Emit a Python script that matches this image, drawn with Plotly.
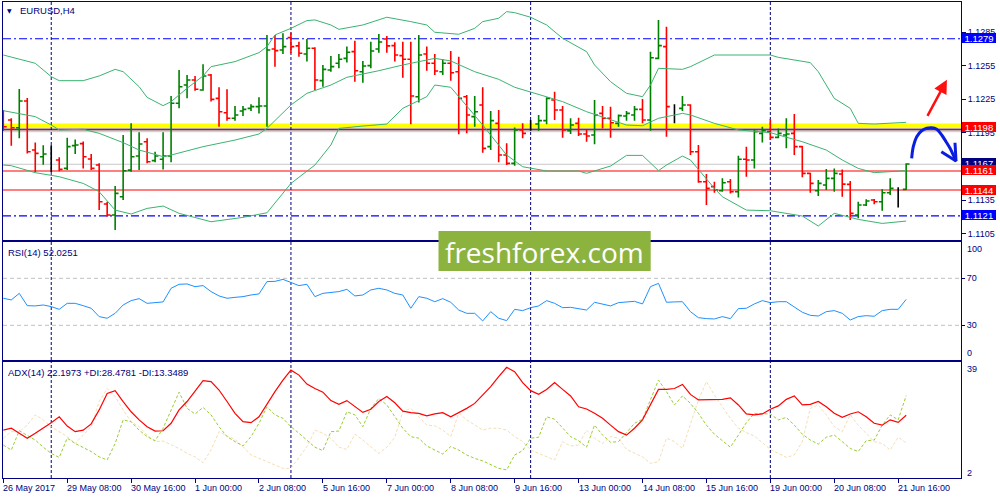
import plotly.graph_objects as go

# ---------------- data (EURUSD H4, bar index 0 = 26 May 2017 00:00) ----------------
opens = [1.12059, 1.12065, 1.11996, 1.12235, 1.11797, 1.11737, 1.11705, 1.11708, 1.11633, 1.11836,
         1.11854, 1.11717, 1.11663, 1.11315, 1.11217, 1.11380, 1.11618, 1.11743, 1.11871, 1.11702,
         1.11714, 1.11743, 1.12214, 1.12377, 1.12422, 1.12333, 1.12467, 1.12258, 1.12130, 1.12080,
         1.12145, 1.12169, 1.12184, 1.12190, 1.12699, 1.12690, 1.12800, 1.12726, 1.12654, 1.12705,
         1.12416, 1.12511, 1.12571, 1.12615, 1.12675, 1.12496, 1.12550, 1.12699, 1.12788, 1.12729,
         1.12639, 1.12607, 1.12273, 1.12654, 1.12571, 1.12496, 1.12571, 1.12496, 1.12273, 1.12095,
         1.12199, 1.11827, 1.12035, 1.11752, 1.11678, 1.11976, 1.12029, 1.12029, 1.12059, 1.12243,
         1.12154, 1.11970, 1.12035, 1.11940, 1.11931, 1.12124, 1.12080, 1.12035, 1.12101, 1.12110,
         1.12160, 1.12065, 1.12615, 1.12720, 1.12178, 1.12169, 1.12199, 1.11782, 1.11514, 1.11470,
         1.11434, 1.11514, 1.11425, 1.11714, 1.11708, 1.11946, 1.11961, 1.11910, 1.11931, 1.11946,
         1.11827, 1.11589, 1.11434, 1.11485, 1.11544, 1.11583, 1.11490, 1.11217, 1.11306, 1.11351,
         1.11336, 1.11416, 1.11455, 1.11446]
highs = [1.12154, 1.12080, 1.12342, 1.12261, 1.11865, 1.11839, 1.11839, 1.11732, 1.11907, 1.11892,
         1.11874, 1.11761, 1.11678, 1.11336, 1.11476, 1.11931, 1.12035, 1.11955, 1.11901, 1.11782,
         1.11955, 1.12279, 1.12511, 1.12467, 1.12458, 1.12562, 1.12476, 1.12357, 1.12339, 1.12190,
         1.12190, 1.12205, 1.12267, 1.12824, 1.12824, 1.12839, 1.12845, 1.12764, 1.12788, 1.12714,
         1.12556, 1.12636, 1.12654, 1.12720, 1.12773, 1.12592, 1.12764, 1.12833, 1.12815, 1.12758,
         1.12764, 1.12764, 1.12824, 1.12720, 1.12654, 1.12607, 1.12681, 1.12630, 1.12288, 1.12279,
         1.12357, 1.12145, 1.12154, 1.11857, 1.11999, 1.12035, 1.12065, 1.12110, 1.12267, 1.12318,
         1.12190, 1.12080, 1.12086, 1.11976, 1.12243, 1.12190, 1.12184, 1.12115, 1.12145, 1.12190,
         1.12252, 1.12675, 1.12958, 1.12898, 1.12205, 1.12279, 1.12205, 1.11842, 1.11583, 1.11514,
         1.11544, 1.11538, 1.11746, 1.11827, 1.11976, 1.12005, 1.12074, 1.11990, 1.12080, 1.12118,
         1.11833, 1.11595, 1.11529, 1.11627, 1.11633, 1.11624, 1.11520, 1.11336, 1.11357, 1.11360,
         1.11446, 1.11544, 1.11464, 1.11678]
lows = [1.11970, 1.11836, 1.11901, 1.11767, 1.11598, 1.11666, 1.11601, 1.11607, 1.11618, 1.11761,
        1.11633, 1.11618, 1.11261, 1.11202, 1.11083, 1.11351, 1.11604, 1.11618, 1.11678, 1.11687,
        1.11624, 1.11687, 1.12169, 1.12258, 1.12327, 1.12327, 1.12229, 1.12005, 1.12059, 1.12059,
        1.12101, 1.12145, 1.12124, 1.12005, 1.12541, 1.12654, 1.12660, 1.12630, 1.12586, 1.12333,
        1.12362, 1.12496, 1.12526, 1.12577, 1.12407, 1.12398, 1.12526, 1.12666, 1.12666, 1.12586,
        1.12443, 1.12026, 1.12220, 1.12505, 1.12467, 1.12467, 1.12416, 1.11937, 1.11946, 1.12005,
        1.11773, 1.11797, 1.11687, 1.11663, 1.11657, 1.11901, 1.11970, 1.11970, 1.12026, 1.12065,
        1.11907, 1.11940, 1.11922, 1.11871, 1.11848, 1.11990, 1.11907, 1.12005, 1.12059, 1.12059,
        1.12035, 1.11970, 1.12607, 1.11916, 1.12035, 1.12145, 1.11752, 1.11505, 1.11306, 1.11416,
        1.11425, 1.11410, 1.11374, 1.11559, 1.11633, 1.11865, 1.11886, 1.11901, 1.11812, 1.11752,
        1.11553, 1.11416, 1.11386, 1.11440, 1.11425, 1.11380, 1.11172, 1.11187, 1.11297, 1.11312,
        1.11255, 1.11395, 1.11285, 1.11440]
closes = [1.12005, 1.11996, 1.12235, 1.11782, 1.11767, 1.11761, 1.11705, 1.11624, 1.11827, 1.11842,
          1.11737, 1.11633, 1.11336, 1.11217, 1.11410, 1.11612, 1.11737, 1.11851, 1.11693, 1.11743,
          1.11743, 1.12214, 1.12362, 1.12422, 1.12339, 1.12458, 1.12249, 1.12139, 1.12080, 1.12110,
          1.12160, 1.12184, 1.12190, 1.12690, 1.12684, 1.12720, 1.12720, 1.12660, 1.12705, 1.12422,
          1.12517, 1.12541, 1.12607, 1.12669, 1.12505, 1.12547, 1.12681, 1.12761, 1.12726, 1.12645,
          1.12607, 1.12279, 1.12645, 1.12571, 1.12502, 1.12571, 1.12487, 1.12258, 1.12110, 1.12139,
          1.11812, 1.12059, 1.11752, 1.11678, 1.11976, 1.11946, 1.12029, 1.12059, 1.12258, 1.12154,
          1.11976, 1.12020, 1.11940, 1.11922, 1.12110, 1.12080, 1.12041, 1.12104, 1.12124, 1.12160,
          1.12065, 1.12621, 1.12729, 1.12184, 1.12178, 1.12199, 1.11782, 1.11514, 1.11455, 1.11440,
          1.11505, 1.11425, 1.11714, 1.11708, 1.11961, 1.11970, 1.11910, 1.11946, 1.11940, 1.11827,
          1.11589, 1.11499, 1.11499, 1.11544, 1.11589, 1.11493, 1.11232, 1.11306, 1.11342, 1.11336,
          1.11416, 1.11455, 1.11455, 1.11672]

bb_up_idx = [0, 4, 6, 7, 10, 12, 14, 15, 17, 18, 20, 21, 23, 25, 26, 29, 32, 33, 34, 36,
             38, 39, 41, 42, 45, 48, 51, 53, 54, 57, 59, 60, 62, 63, 64, 66, 68, 70, 73, 74,
             76, 78, 80, 81, 82, 85, 86, 89, 96, 97, 101, 102, 104, 106, 107, 109, 113]
bb_up = [1.12645, 1.12571, 1.12452, 1.12416, 1.12416, 1.12458, 1.12517, 1.12496, 1.12362, 1.12267,
         1.12193, 1.12229, 1.12348, 1.12458, 1.12541, 1.12586, 1.12666, 1.12720, 1.12824, 1.12883,
         1.12952, 1.12958, 1.12913, 1.12874, 1.12913, 1.12982, 1.12943, 1.12913, 1.12848, 1.12830,
         1.12883, 1.12943, 1.12973, 1.13032, 1.13023, 1.12982, 1.12913, 1.12794, 1.12675, 1.12556,
         1.12407, 1.12303, 1.12273, 1.12377, 1.12526, 1.12517, 1.12541, 1.12645, 1.12645, 1.12624,
         1.12577, 1.12496, 1.12258, 1.12169, 1.12035, 1.12029, 1.12044]
bb_mid_idx = [0, 4, 6, 7, 10, 12, 15, 17, 20, 21, 25, 29, 32, 33, 36, 38, 41, 43, 47, 50,
              54, 56, 59, 62, 64, 67, 70, 73, 76, 78, 80, 82, 85, 86, 89, 92, 96, 100, 103, 105,
              107, 109, 113]
bb_mid = [1.12148, 1.12095, 1.12020, 1.11976, 1.11982, 1.11946, 1.11863, 1.11797, 1.11738, 1.11752,
          1.11827, 1.11886, 1.11940, 1.11990, 1.12199, 1.12303, 1.12377, 1.12446, 1.12505, 1.12556,
          1.12615, 1.12592, 1.12496, 1.12428, 1.12357, 1.12294, 1.12229, 1.12139, 1.12065, 1.12020,
          1.12014, 1.12080, 1.12124, 1.12110, 1.12035, 1.11976, 1.11952, 1.11871, 1.11797, 1.11708,
          1.11633, 1.11595, 1.11613]
bb_lo_idx = [0, 1, 4, 7, 10, 12, 14, 16, 18, 20, 22, 26, 30, 33, 36, 39, 41, 42, 45, 48,
             50, 53, 54, 56, 58, 60, 63, 65, 68, 72, 73, 76, 78, 80, 82, 83, 85, 86, 89, 90,
             93, 96, 100, 102, 104, 107, 110, 113]
bb_lo = [1.11663, 1.11657, 1.11595, 1.11559, 1.11499, 1.11425, 1.11261, 1.11226, 1.11276, 1.11297,
         1.11232, 1.11157, 1.11196, 1.11237, 1.11499, 1.11663, 1.11842, 1.11990, 1.12011, 1.12029,
         1.12169, 1.12273, 1.12377, 1.12357, 1.12190, 1.12020, 1.11752, 1.11648, 1.11610, 1.11610,
         1.11589, 1.11654, 1.11749, 1.11749, 1.11613, 1.11663, 1.11743, 1.11708, 1.11455, 1.11380,
         1.11261, 1.11255, 1.11208, 1.11119, 1.11232, 1.11178, 1.11142, 1.11163]

rsi = [53.0, 51.6, 57.2, 46.7, 46.5, 47.3, 45.9, 43.6, 48.7, 48.7,
       46.7, 44.5, 37.4, 36.0, 40.2, 47.3, 51.0, 52.7, 48.7, 49.6,
       49.9, 61.5, 64.9, 65.2, 62.9, 63.8, 58.7, 55.0, 53.0, 53.8,
       54.4, 55.8, 56.7, 67.2, 67.4, 69.1, 66.6, 63.8, 64.9, 54.4,
       57.2, 58.1, 58.7, 60.6, 55.0, 55.8, 60.1, 61.5, 60.1, 57.2,
       55.8, 44.5, 54.4, 53.0, 50.1, 52.7, 49.6, 43.0, 40.2, 40.2,
       33.7, 41.6, 36.0, 34.0, 43.6, 42.5, 45.0, 46.5, 51.0, 48.7,
       45.0, 45.3, 43.9, 43.0, 49.6, 48.2, 46.5, 49.3, 50.1, 50.4,
       48.2, 62.9, 65.7, 49.6, 49.9, 50.1, 41.6, 36.5, 35.7, 35.4,
       37.4, 35.7, 44.2, 44.5, 48.2, 51.0, 49.3, 50.1, 50.1, 45.9,
       41.1, 38.5, 37.9, 41.6, 42.5, 40.2, 34.5, 37.4, 38.2, 37.7,
       42.5, 43.6, 43.6, 52.0]

adx = [17.4, 18.0, 16.4, 14.8, 16.4, 18.0, 19.8, 21.7, 18.7, 16.9,
       17.4, 19.4, 23.9, 29.2, 30.1, 26.6, 23.3, 20.7, 18.5, 17.1,
       17.2, 19.6, 23.9, 26.6, 29.8, 33.3, 33.0, 30.3, 26.6, 22.8,
       20.1, 19.8, 21.7, 25.8, 29.8, 33.5, 36.7, 35.1, 32.2, 30.8,
       29.6, 26.9, 25.7, 26.9, 25.0, 23.1, 24.1, 26.6, 28.2, 26.2,
       23.5, 23.0, 22.8, 22.0, 22.6, 23.0, 21.7, 23.0, 24.4, 26.0,
       28.7, 31.4, 34.6, 37.6, 36.2, 32.7, 30.1, 28.9, 30.5, 32.7,
       30.5, 28.4, 24.9, 24.2, 22.8, 21.2, 19.0, 16.9, 15.8, 18.0,
       20.7, 25.5, 30.5, 30.5, 30.8, 32.1, 28.9, 27.1, 27.1, 27.3,
       27.3, 27.8, 25.5, 22.6, 22.3, 22.6, 24.1, 25.2, 27.3, 28.4,
       25.5, 25.7, 26.6, 24.9, 22.8, 21.5, 22.6, 23.3, 21.7, 19.6,
       19.0, 20.7, 19.9, 22.2]
plus_di = [12.6, 11.0, 17.2, 15.8, 14.2, 11.9, 9.9, 8.6, 14.8, 13.1,
           11.9, 10.5, 8.8, 7.8, 13.1, 20.7, 20.1, 17.4, 15.3, 14.0,
           18.0, 23.9, 29.6, 24.4, 22.6, 24.7, 22.3, 18.5, 15.3, 13.7,
           12.3, 15.3, 19.6, 24.9, 22.3, 21.2, 18.5, 16.4, 14.2, 11.9,
           10.8, 16.9, 17.1, 23.3, 22.3, 18.5, 24.4, 27.6, 25.5, 21.7,
           18.0, 15.3, 14.8, 12.3, 11.0, 9.7, 12.1, 11.0, 9.4, 8.3,
           7.5, 6.2, 5.1, 4.6, 9.4, 10.8, 14.8, 15.1, 21.7, 20.9,
           18.0, 15.3, 14.0, 11.9, 19.0, 15.8, 13.5, 13.7, 16.6, 19.6,
           20.9, 27.3, 33.5, 29.8, 25.5, 28.4, 26.0, 22.8, 19.0, 16.1,
           14.0, 11.9, 15.8, 19.8, 22.8, 22.6, 22.6, 20.7, 21.5, 19.0,
           16.1, 14.2, 12.9, 15.1, 15.8, 13.7, 11.5, 10.5, 14.0, 14.2,
           19.0, 22.3, 20.7, 28.5]
minus_di = [14.8, 16.9, 16.9, 19.0, 22.3, 20.7, 18.5, 16.9, 15.3, 13.1,
            15.8, 18.5, 26.6, 30.8, 28.2, 23.9, 20.1, 18.5, 15.8, 13.7,
            13.9, 12.6, 11.5, 9.9, 8.8, 6.9, 11.0, 16.9, 15.5, 14.4,
            12.1, 9.4, 8.3, 7.2, 6.2, 5.1, 5.1, 8.8, 12.1, 17.4,
            16.4, 14.8, 11.9, 11.2, 16.1, 14.2, 11.9, 9.9, 11.9, 15.1,
            23.3, 24.4, 21.7, 19.0, 18.8, 17.4, 15.3, 22.8, 20.7, 19.0,
            17.4, 18.0, 18.0, 17.4, 15.3, 13.7, 11.0, 9.9, 8.8, 7.8,
            13.7, 12.3, 12.6, 17.4, 14.8, 13.1, 15.3, 14.8, 11.2, 9.9,
            8.8, 6.7, 7.2, 14.8, 13.7, 11.5, 19.6, 27.1, 33.0, 28.7,
            24.9, 21.2, 18.0, 16.6, 15.5, 13.4, 11.2, 9.9, 8.6, 9.4,
            13.7, 24.4, 25.5, 22.3, 18.5, 16.9, 22.3, 19.0, 16.4, 13.7,
            13.1, 11.0, 15.1, 13.3]

time_tick_idx = [0, 8, 16, 24, 32, 40, 48, 56, 64, 72, 80, 88, 96, 104, 112]
time_tick_labels = ["26 May 2017", "29 May 08:00", "30 May 16:00", "1 Jun 00:00", "2 Jun 08:00",
                    "5 Jun 16:00", "7 Jun 00:00", "8 Jun 08:00", "9 Jun 16:00", "13 Jun 00:00",
                    "14 Jun 08:00", "15 Jun 16:00", "19 Jun 00:00", "20 Jun 08:00", "21 Jun 16:00"]
week_sep_idx = [6, 36, 66, 96]
price_ticks = [1.1105, 1.1135, 1.1165, 1.1195, 1.1225, 1.1255, 1.1285]

level_blue = [1.1279, 1.1121]
level_red = [1.1161, 1.1144]
level_key = 1.1198
bid = 1.1167

# hand-drawn arrows (bar index, price)
red_arrow_tail = (115.57, 1.12089)
red_arrow_head = (118.1, 1.12425)
blue_curve_x = [113.69, 113.89, 114.32, 114.94, 115.57, 116.19, 116.82, 117.45, 117.99, 118.49, 118.90, 119.24]
blue_curve_y = [1.11723, 1.11827, 1.11916, 1.11969, 1.11991, 1.11996, 1.11982, 1.11931, 1.11871, 1.11812, 1.11752, 1.11698]
blue_head_x = [117.40, 119.24, 119.11]
blue_head_y = [1.11782, 1.11698, 1.11862]

# ---------------- styling ----------------
NAVY = "#000080"
FONT = "Liberation Sans"
GREEN_BAR = "#008000"
RED_BAR = "#FF0000"
PLOT_L, PLOT_R, PLOT_T, PLOT_B = 3, 961, 2, 478
W, H = 1000, 500


def px_x(px):
    return (px - PLOT_L) / (PLOT_R - PLOT_L)


def px_y(py):
    return (PLOT_B - py) / (PLOT_B - PLOT_T)


n = len(closes)
idx = list(range(n))
fig = go.Figure()

normal = [i for i in idx if closes[i] != opens[i]]
doji = [i for i in idx if closes[i] == opens[i]]


def ohlc_trace(sel, inc, dec, tw):
    return go.Ohlc(x=sel, open=[opens[i] for i in sel], high=[highs[i] for i in sel],
                   low=[lows[i] for i in sel], close=[closes[i] for i in sel],
                   increasing=dict(line=dict(color=inc, width=1.6)),
                   decreasing=dict(line=dict(color=dec, width=1.6)),
                   tickwidth=tw, xaxis="x", yaxis="y", hoverinfo="skip", showlegend=False)


fig.add_trace(ohlc_trace(normal, GREEN_BAR, RED_BAR, 0.42))
if doji:
    gaps = [b - a for a, b in zip(doji[:-1], doji[1:])] or [1]
    fig.add_trace(ohlc_trace(doji, "#000000", "#000000", min(0.5, 0.42 / min(gaps))))

for bx, by in [(bb_up_idx, bb_up), (bb_mid_idx, bb_mid), (bb_lo_idx, bb_lo)]:
    fig.add_trace(go.Scatter(x=bx, y=by, mode="lines", line=dict(color="#3CB371", width=1),
                             xaxis="x", yaxis="y", hoverinfo="skip"))

# blue hand-drawn curve
fig.add_trace(go.Scatter(x=blue_curve_x, y=blue_curve_y, mode="lines",
                         line=dict(color="#0A1EE0", width=3, shape="spline"),
                         xaxis="x", yaxis="y", hoverinfo="skip", cliponaxis=False))
fig.add_trace(go.Scatter(x=blue_head_x, y=blue_head_y, mode="lines",
                         line=dict(color="#0A1EE0", width=3),
                         xaxis="x", yaxis="y", hoverinfo="skip", cliponaxis=False))

# RSI
fig.add_trace(go.Scatter(x=idx, y=rsi, mode="lines", line=dict(color="#1E90FF", width=1),
                         xaxis="x2", yaxis="y2", hoverinfo="skip"))
# ADX
fig.add_trace(go.Scatter(x=idx, y=minus_di, mode="lines", line=dict(color="#F5DEB3", width=1, dash="3px,2px"),
                         xaxis="x3", yaxis="y3", hoverinfo="skip"))
fig.add_trace(go.Scatter(x=idx, y=plus_di, mode="lines", line=dict(color="#9ACD32", width=1, dash="3px,2px"),
                         xaxis="x3", yaxis="y3", hoverinfo="skip"))
fig.add_trace(go.Scatter(x=idx, y=adx, mode="lines", line=dict(color="#FF0000", width=1.2),
                         xaxis="x3", yaxis="y3", hoverinfo="skip"))

shapes = []
# key level band
shapes.append(dict(type="line", xref="x domain", x0=0, x1=1, yref="y", y0=level_key + 0.00006, y1=level_key + 0.00006,
                   line=dict(color="#D2D2D2", width=7), layer="below"))
shapes.append(dict(type="line", xref="x domain", x0=0, x1=1, yref="y", y0=level_key + 0.00033, y1=level_key + 0.00033,
                   line=dict(color="#FFFF00", width=4.5), layer="below"))
shapes.append(dict(type="line", xref="x domain", x0=0, x1=1, yref="y", y0=level_key, y1=level_key,
                   line=dict(color="#8B2A2A", width=1.3), layer="below"))
shapes.append(dict(type="line", xref="x domain", x0=0, x1=1, yref="y", y0=bid, y1=bid,
                   line=dict(color="#C8C8C8", width=1), layer="below"))
for lv in level_blue:
    shapes.append(dict(type="line", xref="x domain", x0=0, x1=1, yref="y", y0=lv, y1=lv,
                       line=dict(color="#0000FF", width=1.2, dash="8px,3px,2px,3px"), layer="below"))
for lv in level_red:
    shapes.append(dict(type="line", xref="x domain", x0=0, x1=1, yref="y", y0=lv, y1=lv,
                       line=dict(color="#FF0000", width=1.2), layer="below"))
# RSI levels
for lv in [70, 30]:
    shapes.append(dict(type="line", xref="x2 domain", x0=0, x1=1, yref="y2", y0=lv, y1=lv,
                       line=dict(color="#C0C0C0", width=1, dash="4px,3px"), layer="below"))
# weekly separators
for s in week_sep_idx:
    for xr, yr in [("x", "y domain"), ("x2", "y2 domain"), ("x3", "y3 domain")]:
        shapes.append(dict(type="line", xref=xr, x0=s, x1=s, yref=yr, y0=0, y1=1,
                           line=dict(color=NAVY, width=1, dash="3px,2px"), layer="below"))
# watermark box
shapes.append(dict(type="rect", xref="paper", yref="paper", x0=px_x(438.5), x1=px_x(650.7),
                   y0=px_y(271), y1=px_y(231), fillcolor="#8DB33F", line=dict(width=0), layer="above"))

annotations = []
# time labels (left aligned at tick)
for ti, tl in zip(time_tick_idx, time_tick_labels):
    annotations.append(dict(xref="x3", x=ti, yref="paper", y=px_y(488), xanchor="left", yanchor="middle",
                            text=tl, showarrow=False, xshift=-2, font=dict(family=FONT, size=9, color=NAVY)))
# titles
annotations.append(dict(xref="paper", x=px_x(18), yref="paper", y=px_y(10.5), xanchor="left", yanchor="middle",
                        text="EURUSD,H4", showarrow=False, font=dict(family=FONT, size=9.5, color=NAVY)))
annotations.append(dict(xref="paper", x=px_x(9.5), yref="paper", y=px_y(10.5), xanchor="center", yanchor="middle",
                        text="▼", showarrow=False, font=dict(family="DejaVu Sans", size=6, color=NAVY)))
annotations.append(dict(xref="paper", x=px_x(6), yref="paper", y=px_y(252), xanchor="left", yanchor="middle",
                        text="RSI(14) %.4f" % 52.0251, showarrow=False, font=dict(family=FONT, size=9.5, color=NAVY)))
annotations.append(dict(xref="paper", x=px_x(6), yref="paper", y=px_y(372), xanchor="left", yanchor="middle",
                        text="ADX(14) 22.1973 +DI:28.4781 -DI:13.3489", showarrow=False,
                        font=dict(family=FONT, size=9.5, color=NAVY)))
# edge labels of sub windows
for txt, py in [("100", 249.3), ("0", 353.3), ("39", 369.3), ("2", 472.7)]:
    annotations.append(dict(xref="paper", x=1, yref="paper", y=px_y(py), xanchor="left", yanchor="middle",
                            xshift=4, text=txt, showarrow=False, font=dict(family=FONT, size=9, color=NAVY)))
# price boxes
for txt, val, bg, ys in [("1.1279", 1.1279, "#0000FF", 1), ("1.1198", level_key, "#FF0000", 2.5),
                         ("1.1167", bid, "#000080", 1), ("1.1161", 1.1161, "#FF0000", 1),
                         ("1.1144", 1.1144, "#FF0000", 0.5), ("1.1121", 1.1121, "#0000FF", 1)]:
    annotations.append(dict(xref="paper", x=1, yref="y", y=val, xanchor="left", yanchor="middle",
                            xshift=0.5, yshift=ys, text=txt, showarrow=False, bgcolor=bg, borderpad=0,
                            borderwidth=0, width=34, height=10, align="center",
                            font=dict(family=FONT, size=9.5, color="#FFFFFF")))
# red arrow
annotations.append(dict(xref="x", yref="y", x=red_arrow_head[0], y=red_arrow_head[1],
                        axref="x", ayref="y", ax=red_arrow_tail[0], ay=red_arrow_tail[1],
                        showarrow=True, arrowhead=2, arrowsize=1.1, arrowwidth=2.5, arrowcolor="#FF1010", text=""))
# watermark text
annotations.append(dict(xref="paper", yref="paper", x=px_x(544.6), y=px_y(251.5), xanchor="center", yanchor="middle",
                        text="freshforex.com", showarrow=False,
                        font=dict(family="Open Sans", size=28, color="#FFFFFF")))

axis_common = dict(showgrid=False, zeroline=False, showline=True, mirror=True, linecolor=NAVY, linewidth=1)
xr = [(PLOT_L - 3.3) / 7.99, (PLOT_R - 3.3) / 7.99]

fig.update_layout(
    width=W, height=H, margin=dict(l=PLOT_L, r=W - PLOT_R, t=PLOT_T, b=H - PLOT_B, autoexpand=False),
    paper_bgcolor="white", plot_bgcolor="white", showlegend=False, hovermode=False,
    shapes=shapes, annotations=annotations,
    xaxis=dict(domain=[0, 1], anchor="y", range=xr, showticklabels=False, ticks="",
               rangeslider=dict(visible=False), **axis_common),
    xaxis2=dict(domain=[0, 1], anchor="y2", matches="x", showticklabels=False, ticks="", **axis_common),
    xaxis3=dict(domain=[0, 1], anchor="y3", matches="x", showticklabels=False, ticks="outside",
                tickvals=time_tick_idx, ticklen=4, tickcolor=NAVY, **axis_common),
    yaxis=dict(domain=[px_y(240), 1], anchor="x", side="right", range=[1.10994, 1.13118],
               tickvals=price_ticks, ticktext=["%.4f" % v for v in price_ticks],
               ticks="outside", ticklen=4, tickcolor=NAVY,
               tickfont=dict(family=FONT, size=9, color=NAVY), **axis_common),
    yaxis2=dict(domain=[px_y(360), px_y(242)], anchor="x2", side="right", range=[0.47, 100.9],
                tickvals=[70, 30], ticktext=["70", "30"], ticks="outside", ticklen=3, tickcolor=NAVY,
                tickfont=dict(family=FONT, size=9, color=NAVY), **axis_common),
    yaxis3=dict(domain=[0, px_y(362)], anchor="x3", side="right", range=[1.99, 39.32],
                showticklabels=False, ticks="", **axis_common),
)

fig.write_html("out.html", config={"displayModeBar": False},
               post_script="document.body.style.margin='0px';document.body.style.padding='0px';")
